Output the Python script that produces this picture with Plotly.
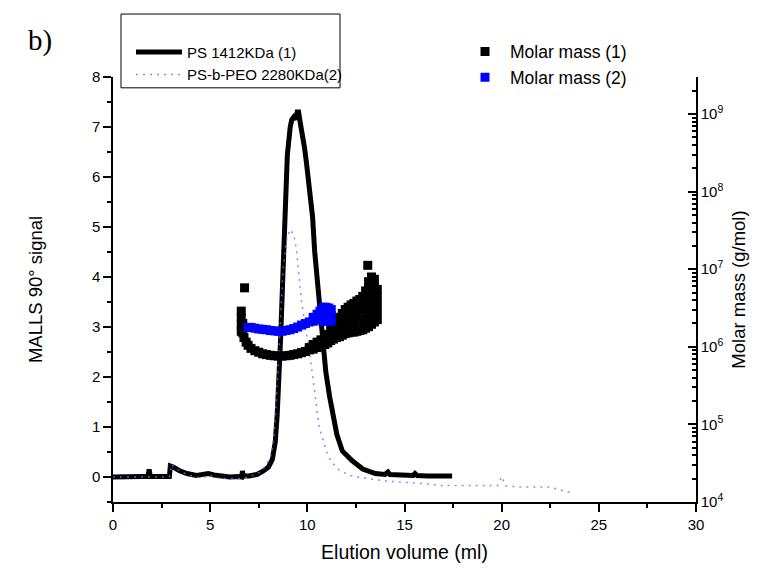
import numpy as np
import plotly.graph_objects as go

# MALLS 90° detector trace, PS 1412 kDa (1)
ps_x = [0.0, 0.5, 1.0, 1.5, 1.8, 1.86, 1.92, 2.5, 2.9, 2.95, 3.1, 3.4, 3.8, 4.3, 4.6,
        4.9, 5.2, 5.6, 6.0, 6.5, 6.62, 6.66, 6.7, 7.0, 7.4, 7.7, 8.0, 8.2, 8.35, 8.45,
        8.55, 8.63, 8.72, 8.8, 8.88, 8.97, 9.12, 9.2, 9.3, 9.4, 9.48, 9.55, 9.65, 9.75,
        9.85, 9.95, 10.03, 10.12, 10.2, 10.27, 10.38, 10.55, 10.65, 10.78, 10.95, 11.15,
        11.32, 11.52, 11.8, 12.3, 12.85, 13.5, 14.0, 14.15, 14.25, 14.8, 15.44, 15.54,
        15.65, 16.2, 17.0, 17.45]
ps_y = [0.0, 0.01, 0.0, 0.01, 0.01, 0.15, 0.01, 0.0, 0.01, 0.22, 0.2, 0.13, 0.07, 0.03, 0.04,
        0.07, 0.04, 0.01, 0.0, 0.01, 0.0, 0.12, 0.02, 0.02, 0.05, 0.11, 0.2, 0.35, 0.7, 1.25,
        2.0, 2.82, 3.8, 4.79, 5.77, 6.43, 7.0, 7.15, 7.2, 7.15, 7.3, 7.3, 7.05, 6.85,
        6.6, 6.3, 6.0, 5.8, 5.6, 5.2, 4.5, 3.8, 3.2, 2.6, 2.1, 1.6,
        1.25, 0.85, 0.52, 0.33, 0.16, 0.07, 0.05, 0.1, 0.05, 0.03, 0.03, 0.07,
        0.03, 0.02, 0.02, 0.02]

# MALLS 90° detector trace, PS-b-PEO 2280 kDa (2)
peo_x = [0.0, 1.0, 2.0, 2.9, 3.0, 3.3, 3.8, 4.5, 5.0, 5.5, 6.5, 7.0, 7.6, 7.9, 8.15,
         8.3, 8.45, 8.6, 8.75, 8.9, 9.1, 9.3, 9.45, 9.54, 9.71, 10.14, 10.35, 10.48, 10.62,
         10.75, 11.0, 11.2, 11.6, 12.2, 12.9, 14.0, 15.5, 16.3, 16.8, 18.0, 19.8, 20.0,
         20.2, 21.0, 22.5, 23.0, 23.6]
peo_y = [0.0, 0.0, 0.0, 0.0, 0.25, 0.15, 0.05, -0.02, 0.03, -0.03, -0.03, 0.0, 0.1, 0.25, 0.45,
         0.85, 1.84, 3.0, 4.13, 4.7, 4.95, 4.85, 4.53, 4.13, 3.48, 2.43, 1.7, 1.38, 0.98,
         0.8, 0.5, 0.32, 0.15, 0.03, -0.02, -0.08, -0.12, -0.14, -0.17, -0.17, -0.17, 0.01,
         -0.18, -0.2, -0.2, -0.26, -0.31]

# Molar mass (1), log10(M / g·mol⁻¹) per slice
mm1_x = [6.6, 6.6, 6.6, 6.6, 6.68, 6.68, 6.74, 6.77, 6.85, 6.95,
         7.1, 7.3, 7.5, 7.7, 7.9, 8.1, 8.3, 8.5, 8.7, 8.9, 9.1, 9.3, 9.5, 9.7, 9.9,
         10.1, 10.1, 10.3, 10.3, 10.5, 10.5, 10.7, 10.7,
         10.9, 10.9, 11.05, 11.05, 11.2, 11.2, 11.2, 11.35, 11.35, 11.35, 11.5, 11.5, 11.5,
         11.65, 11.65, 11.65, 11.65, 11.8, 11.8, 11.8, 11.8, 11.95, 11.95, 11.95, 11.95,
         12.1, 12.1, 12.1, 12.1, 12.25, 12.25, 12.25, 12.25, 12.4, 12.4, 12.4, 12.4,
         12.55, 12.55, 12.55, 12.55, 12.7, 12.7, 12.7, 12.7, 12.85, 12.85, 12.85, 12.85,
         13.0, 13.0, 13.0, 13.0, 13.0, 13.11,
         13.15, 13.15, 13.15, 13.15, 13.15, 13.15, 13.3, 13.3, 13.3, 13.3, 13.3, 13.3,
         13.45, 13.45, 13.45, 13.45, 13.45, 13.45, 13.6, 13.6, 13.6, 13.6, 13.6]
mm1_log = [6.20, 6.28, 6.37, 6.46, 6.18, 6.30, 6.12, 6.76, 6.06, 6.02,
           5.98, 5.95, 5.93, 5.91, 5.90, 5.89, 5.885, 5.88, 5.88, 5.885, 5.89, 5.90, 5.91, 5.925, 5.94,
           5.96, 5.99, 5.97, 6.03, 5.99, 6.06, 6.01, 6.09,
           6.03, 6.13, 6.05, 6.16, 6.08, 6.16, 6.22, 6.10, 6.20, 6.29, 6.12, 6.22, 6.33,
           6.13, 6.22, 6.30, 6.38, 6.15, 6.24, 6.33, 6.43, 6.17, 6.27, 6.37, 6.48,
           6.18, 6.29, 6.40, 6.51, 6.19, 6.30, 6.42, 6.54, 6.19, 6.31, 6.44, 6.56,
           6.20, 6.33, 6.46, 6.59, 6.21, 6.34, 6.48, 6.61, 6.22, 6.36, 6.50, 6.65,
           6.24, 6.36, 6.48, 6.60, 6.72, 7.05,
           6.26, 6.38, 6.50, 6.62, 6.73, 6.84, 6.29, 6.41, 6.53, 6.65, 6.78, 6.90,
           6.32, 6.44, 6.56, 6.68, 6.78, 6.87, 6.35, 6.45, 6.55, 6.65, 6.74]

# Molar mass (2), log10(M / g·mol⁻¹) per slice
mm2_x = [6.94, 7.1, 7.3, 7.5, 7.7, 7.9, 8.1, 8.3, 8.5, 8.7, 8.9, 9.1, 9.3, 9.5, 9.7,
         9.9, 10.1, 10.3, 10.3, 10.5, 10.5, 10.65, 10.65, 10.8, 10.8, 10.8,
         10.95, 10.95, 10.95, 11.1, 11.1, 11.1, 11.23, 11.23, 11.23]
mm2_log = [6.25, 6.25, 6.24, 6.23, 6.225, 6.22, 6.21, 6.205, 6.20, 6.20, 6.21, 6.22, 6.235, 6.255, 6.28,
           6.30, 6.32, 6.33, 6.38, 6.35, 6.42, 6.35, 6.46, 6.33, 6.43, 6.51,
           6.33, 6.42, 6.51, 6.33, 6.42, 6.50, 6.33, 6.41, 6.48]

mm_ticks = [1e4, 1e5, 1e6, 1e7, 1e8, 1e9]
mm_ticktext = ["10<sup>%d</sup>" % int(round(np.log10(v))) for v in mm_ticks]

FONT = "Arial, 'Liberation Sans', sans-serif"

fig = go.Figure()
fig.add_trace(go.Scatter(
    x=ps_x, y=ps_y, mode="lines", name="PS 1412KDa (1)",
    line=dict(color="black", width=5), legend="legend"))
fig.add_trace(go.Scatter(
    x=peo_x, y=peo_y, mode="lines", name="PS-b-PEO 2280KDa(2)",
    line=dict(color="rgba(110,110,255,0.8)", width=1.5, dash="2px,5px"),
    legend="legend"))
fig.add_trace(go.Scatter(
    x=mm1_x, y=np.power(10.0, mm1_log), mode="markers", name="Molar mass (1)",
    marker=dict(symbol="square", size=9, color="black", line=dict(width=0)),
    yaxis="y2", legend="legend2"))
fig.add_trace(go.Scatter(
    x=mm2_x, y=np.power(10.0, mm2_log), mode="markers", name="Molar mass (2)",
    marker=dict(symbol="square", size=9, color="#0000ff", line=dict(width=0)),
    yaxis="y2", legend="legend2"))

axis_common = dict(showgrid=False, zeroline=False, showline=True, linecolor="black",
                   linewidth=1.5, tickcolor="black", tickwidth=1.5, ticklen=8,
                   tickfont=dict(family=FONT, size=15, color="black"))

fig.update_layout(
    width=759, height=572,
    margin=dict(l=113, r=63, t=77, b=63),
    paper_bgcolor="white", plot_bgcolor="white",
    font=dict(family=FONT, color="black"),
    showlegend=True,
    xaxis=dict(range=[0, 30], tick0=0, dtick=5, ticks="outside",
               minor=dict(dtick=2.5, ticks="outside", ticklen=4, tickwidth=1.5, tickcolor="black"),
               title=dict(text="Elution volume (ml)", font=dict(size=19.5), standoff=14),
               **axis_common),
    yaxis=dict(range=[-0.5, 8], tick0=0, dtick=1, ticks="outside",
               minor=dict(dtick=0.5, ticks="outside", ticklen=4, tickwidth=1.5, tickcolor="black"),
               title=dict(text="MALLS 90° signal", font=dict(size=18.5), standoff=44),
               **axis_common),
    yaxis2=dict(type="log", range=[4, np.log10(3e9)], overlaying="y", side="right",
                tickmode="array", tickvals=mm_ticks, ticktext=mm_ticktext, ticks="inside",
                minor=dict(ticks="inside", ticklen=4, tickwidth=1.5, tickcolor="black", dtick="D1"),
                title=dict(text="Molar mass (g/mol)", font=dict(size=18.5), standoff=10),
                **axis_common),
    legend=dict(x=(131 - 113) / 583, y=(509 - 35) / 432, xanchor="left", yanchor="top",
                bgcolor="rgba(0,0,0,0)", borderwidth=0, tracegroupgap=0, itemwidth=46,
                font=dict(family=FONT, size=15, color="black")),
    legend2=dict(x=(460 - 113) / 583, y=(509 - 33) / 432, xanchor="left", yanchor="top",
                 bgcolor="rgba(0,0,0,0)", borderwidth=0, tracegroupgap=0, itemwidth=40,
                 font=dict(family=FONT, size=17.5, color="black")),
    shapes=[dict(type="rect", xref="paper", yref="paper",
                 x0=(121 - 113) / 583, x1=(340 - 113) / 583,
                 y0=(509 - 88) / 432, y1=(509 - 13) / 432,
                 line=dict(color="black", width=1), fillcolor="rgba(0,0,0,0)")],
    annotations=[dict(text="b)", xref="paper", yref="paper",
                      x=(40 - 113) / 583, y=(509 - 40) / 432, xanchor="center", yanchor="middle",
                      showarrow=False,
                      font=dict(family="'Liberation Serif', 'Times New Roman', serif", size=29,
                                color="black"))],
)

fig.write_html("out.html")
